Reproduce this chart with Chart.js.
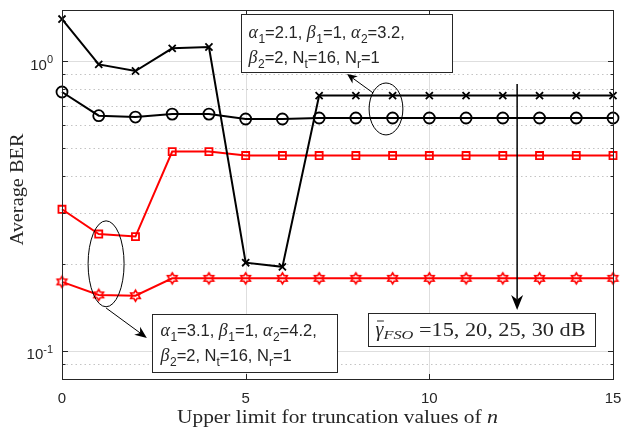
<!DOCTYPE html>
<html>
<head>
<meta charset="utf-8">
<script src="https://cdn.jsdelivr.net/npm/chart.js@4"></script>
<style>
  html, body { margin: 0; padding: 0; background: #fff; }
</style>
</head>
<body>
<canvas id="c" width="621" height="432"></canvas>
<script>
// Truncation limit n on the x axis
const nValues = [0, 1, 2, 3, 4, 5, 6, 7, 8, 9, 10, 11, 12, 13, 14, 15];

// Average BER per truncation limit
const berCross  = [1.396, 0.974, 0.924, 1.106, 1.118, 0.2015, 0.195, 0.76, 0.76, 0.76, 0.76, 0.76, 0.76, 0.76, 0.76, 0.76];
const berCircle = [0.782, 0.648, 0.641, 0.656, 0.656, 0.631, 0.631, 0.636, 0.636, 0.636, 0.636, 0.636, 0.636, 0.636, 0.636, 0.636];
const berSquare = [0.308, 0.253, 0.248, 0.487, 0.487, 0.472, 0.472, 0.472, 0.472, 0.472, 0.472, 0.472, 0.472, 0.472, 0.472, 0.472];
const berStar   = [0.173, 0.156, 0.155, 0.178, 0.178, 0.178, 0.178, 0.178, 0.178, 0.178, 0.178, 0.178, 0.178, 0.178, 0.178, 0.178];

// Axis ticks
const xTickLabels = [0, 5, 10, 15];
const yMajorTicks = [0.1, 1];
const yTickExponents = ['-1', '0'];
const yMinorTicks = [0.09, 0.2, 0.3, 0.4, 0.5, 0.6, 0.7, 0.8, 0.9];

const xTitle = 'Upper limit for truncation values of ';
const xTitleVar = 'n';
const yTitle = 'Average BER';

// Text of the parameter notes: [text, kind] where kind g = greek, s = subscript, n = normal
const noteTopLines = [
  [['α','g'],['1','s'],['=2.1, ','n'],['β','g'],['1','s'],['=1, ','n'],['α','g'],['2','s'],['=3.2,','n']],
  [['β','g'],['2','s'],['=2, N','n'],['t','s'],['=16, N','n'],['r','s'],['=1','n']]
];
const noteBottomLines = [
  [['α','g'],['1','s'],['=3.1, ','n'],['β','g'],['1','s'],['=1, ','n'],['α','g'],['2','s'],['=4.2,','n']],
  [['β','g'],['2','s'],['=2, N','n'],['t','s'],['=16, N','n'],['r','s'],['=1','n']]
];
const snrText = ' =15, 20, 25, 30 dB';

const SANS = '"Liberation Sans", Arial, sans-serif';
const SERIF = '"Liberation Serif", "Times New Roman", serif';
const TEXT = '#262626';

// Hexagram marker drawn onto a small canvas
function hexagram(color, r) {
  const s = Math.ceil(2 * r + 4);
  const c = document.createElement('canvas');
  c.width = s; c.height = s;
  const g = c.getContext('2d');
  const m = s / 2, ri = r / Math.sqrt(3);
  g.strokeStyle = color; g.lineWidth = 1.6; g.lineJoin = 'miter';
  g.beginPath();
  for (let i = 0; i < 12; i++) {
    const a = -Math.PI / 2 + i * Math.PI / 6;
    const rr = i % 2 === 0 ? r : ri;
    const px = m + rr * Math.cos(a), py = m + rr * Math.sin(a);
    if (i === 0) g.moveTo(px, py); else g.lineTo(px, py);
  }
  g.closePath(); g.stroke();
  return c;
}

function series(values) { return nValues.map((n, i) => ({ x: n, y: values[i] })); }

const datasets = [
  { data: series(berCross), borderColor: '#000', borderWidth: 2, pointStyle: 'crossRot',
    pointRadius: 5, pointBorderWidth: 1.8, pointBorderColor: '#000', pointBackgroundColor: 'rgba(0,0,0,0)' },
  { data: series(berCircle), borderColor: '#000', borderWidth: 2, pointStyle: 'circle',
    pointRadius: 5.5, pointBorderWidth: 1.8, pointBorderColor: '#000', pointBackgroundColor: 'rgba(0,0,0,0)' },
  { data: series(berSquare), borderColor: '#ff0000', borderWidth: 2, pointStyle: 'rect',
    pointRadius: 5, pointBorderWidth: 1.8, pointBorderColor: '#ff0000', pointBackgroundColor: 'rgba(0,0,0,0)' },
  { data: series(berStar), borderColor: '#ff0000', borderWidth: 2, pointStyle: hexagram('#ff0000', 5.5),
    pointRadius: 5, pointBorderColor: '#ff0000' }
].map(d => Object.assign(d, { tension: 0, fill: false, clip: false }));

// Annotation shapes placed in data coordinates
const noteBoxes = [
  { x0: 4.87, x1: 10.62, y0: 1.452, y1: 0.917, lines: noteTopLines, pad: 7, base: [23, 48.5] },
  { x0: 2.45, x1: 7.49, y0: 0.134, y1: 0.0847, lines: noteBottomLines, pad: 8, base: [21.5, 46.5] }
];
const snrBox = { x0: 8.33, x1: 14.51, y0: 0.1355, y1: 0.104 };
const ellipses = [
  { x0: 8.36, x1: 9.28, y0: 0.840, y1: 0.556 },
  { x0: 0.71, x1: 1.69, y0: 0.281, y1: 0.142 }
];
const arrows = [
  { from: [8.47, 0.776], to: [7.76, 0.902], len: 10, half: 4.5 },
  { from: [1.20, 0.1406], to: [2.31, 0.1109], len: 12, half: 5 },
  { from: [12.39, 0.833], to: [12.39, 0.1384], len: 15, half: 6 }
];

// Serif text stretched horizontally to a given width (Computer Modern runs wider than Times)
function fitText(ctx, font, text, x, y, width) {
  ctx.font = font;
  const w = ctx.measureText(text).width;
  ctx.save();
  ctx.translate(x, y);
  ctx.scale(width / w, 1);
  ctx.fillText(text, 0, 0);
  ctx.restore();
}

function drawRuns(ctx, runs, x, y) {
  const fonts = { n: '16.5px ' + SANS, g: 'italic 18px ' + SERIF, s: '12px ' + SANS };
  ctx.textAlign = 'left'; ctx.textBaseline = 'alphabetic'; ctx.fillStyle = TEXT;
  for (const [t, k] of runs) {
    ctx.font = fonts[k];
    ctx.fillText(t, x, y + (k === 's' ? 5 : 0));
    x += ctx.measureText(t).width + (k === 'g' ? 0.5 : 0);
  }
}

function drawArrow(ctx, x1, y1, x2, y2, len, half) {
  const ang = Math.atan2(y2 - y1, x2 - x1);
  const ca = Math.cos(ang), sa = Math.sin(ang);
  const bx = x2 - len * ca, by = y2 - len * sa;
  const ix = x2 - len * 0.7 * ca, iy = y2 - len * 0.7 * sa;
  ctx.beginPath(); ctx.moveTo(x1, y1); ctx.lineTo(ix, iy); ctx.stroke();
  ctx.beginPath();
  ctx.moveTo(x2, y2);
  ctx.lineTo(bx - half * sa, by + half * ca);
  ctx.lineTo(ix, iy);
  ctx.lineTo(bx + half * sa, by - half * ca);
  ctx.closePath(); ctx.fill();
}

const framePlugin = {
  id: 'frame',
  beforeDatasetsDraw(chart) {
    const { ctx, chartArea: a, scales: { x, y } } = chart;
    ctx.save();
    ctx.lineWidth = 1;
    ctx.strokeStyle = '#dedede';
    for (const v of [5, 10]) {
      const p = Math.round(x.getPixelForValue(v)) + 0.5;
      ctx.beginPath(); ctx.moveTo(p, a.top); ctx.lineTo(p, a.bottom); ctx.stroke();
    }
    for (const v of yMajorTicks) {
      const p = Math.round(y.getPixelForValue(v)) + 0.5;
      ctx.beginPath(); ctx.moveTo(a.left, p); ctx.lineTo(a.right, p); ctx.stroke();
    }
    ctx.setLineDash([1.5, 3]);
    ctx.strokeStyle = '#c4c4c4';
    for (const v of yMinorTicks) {
      const p = Math.round(y.getPixelForValue(v)) + 0.5;
      ctx.beginPath(); ctx.moveTo(a.left, p); ctx.lineTo(a.right, p); ctx.stroke();
    }
    ctx.restore();
  },
  afterDatasetsDraw(chart) {
    const { ctx, chartArea: a, scales: { x, y } } = chart;
    ctx.save();
    // axes box
    ctx.strokeStyle = TEXT; ctx.lineWidth = 1;
    const L = Math.round(a.left) + 0.5, R = Math.round(a.right) + 0.5;
    const T = Math.round(a.top) + 0.5, B = Math.round(a.bottom) + 0.5;
    ctx.strokeRect(L, T, R - L, B - T);
    // tick marks, pointing inward on all sides
    ctx.beginPath();
    for (const v of xTickLabels) {
      const p = Math.round(x.getPixelForValue(v)) + 0.5;
      ctx.moveTo(p, B); ctx.lineTo(p, B - 5.5);
      ctx.moveTo(p, T); ctx.lineTo(p, T + 5.5);
    }
    for (const v of yMajorTicks) {
      const p = Math.round(y.getPixelForValue(v)) + 0.5;
      ctx.moveTo(L, p); ctx.lineTo(L + 5.5, p);
      ctx.moveTo(R, p); ctx.lineTo(R - 5.5, p);
    }
    for (const v of yMinorTicks) {
      const p = Math.round(y.getPixelForValue(v)) + 0.5;
      ctx.moveTo(L, p); ctx.lineTo(L + 3, p);
      ctx.moveTo(R, p); ctx.lineTo(R - 3, p);
    }
    ctx.stroke();

    // tick labels
    ctx.fillStyle = TEXT;
    ctx.textBaseline = 'alphabetic';
    ctx.font = '15px ' + SANS; ctx.textAlign = 'center';
    for (const v of xTickLabels) ctx.fillText(String(v), x.getPixelForValue(v), a.bottom + 24);
    yMajorTicks.forEach((v, i) => {
      const p = y.getPixelForValue(v);
      const right = a.left - 9;
      ctx.font = '11px ' + SANS; ctx.textAlign = 'right';
      const supW = ctx.measureText(yTickExponents[i]).width;
      ctx.fillText(yTickExponents[i], right, p + 2);
      ctx.font = '15px ' + SANS;
      ctx.fillText('10', right - supW, p + 8.5);
    });

    // axis titles
    ctx.textAlign = 'left';
    const titleW = 310, varW = 11;
    let sx = (a.left + a.right) / 2 - (titleW + varW) / 2;
    fitText(ctx, '19px ' + SERIF, xTitle, sx, a.bottom + 44, titleW);
    fitText(ctx, 'italic 19px ' + SERIF, xTitleVar, sx + titleW, a.bottom + 44, varW);
    ctx.save();
    ctx.translate(23, (a.top + a.bottom) / 2 - 5);
    ctx.rotate(-Math.PI / 2);
    fitText(ctx, '19px ' + SERIF, yTitle, -56, 0, 112);
    ctx.restore();

    // ellipses
    ctx.strokeStyle = '#000'; ctx.lineWidth = 1;
    for (const e of ellipses) {
      const X0 = x.getPixelForValue(e.x0), X1 = x.getPixelForValue(e.x1);
      const Y0 = y.getPixelForValue(e.y0), Y1 = y.getPixelForValue(e.y1);
      ctx.beginPath();
      ctx.ellipse((X0 + X1) / 2, (Y0 + Y1) / 2, Math.abs(X1 - X0) / 2, Math.abs(Y1 - Y0) / 2, 0, 0, Math.PI * 2);
      ctx.stroke();
    }
    // arrows
    ctx.fillStyle = '#000';
    for (const ar of arrows) {
      const vertical = ar.from[0] === ar.to[0];
      ctx.lineWidth = vertical ? 1.5 : 1;
      drawArrow(ctx, x.getPixelForValue(ar.from[0]), y.getPixelForValue(ar.from[1]),
        x.getPixelForValue(ar.to[0]), y.getPixelForValue(ar.to[1]), ar.len, ar.half);
    }
    // parameter notes
    for (const b of noteBoxes) {
      const X0 = Math.round(x.getPixelForValue(b.x0)) + 0.5, X1 = Math.round(x.getPixelForValue(b.x1)) + 0.5;
      const Y0 = Math.round(y.getPixelForValue(b.y0)) + 0.5, Y1 = Math.round(y.getPixelForValue(b.y1)) + 0.5;
      ctx.fillStyle = '#fff'; ctx.fillRect(X0, Y0, X1 - X0, Y1 - Y0);
      ctx.strokeStyle = '#262626'; ctx.lineWidth = 1; ctx.strokeRect(X0, Y0, X1 - X0, Y1 - Y0);
      b.lines.forEach((ln, i) => drawRuns(ctx, ln, X0 + b.pad, Y0 + b.base[i]));
    }
    // SNR note
    {
      const X0 = Math.round(x.getPixelForValue(snrBox.x0)) + 0.5, X1 = Math.round(x.getPixelForValue(snrBox.x1)) + 0.5;
      const Y0 = Math.round(y.getPixelForValue(snrBox.y0)) + 0.5, Y1 = Math.round(y.getPixelForValue(snrBox.y1)) + 0.5;
      ctx.fillStyle = '#fff'; ctx.fillRect(X0, Y0, X1 - X0, Y1 - Y0);
      ctx.strokeStyle = '#262626'; ctx.strokeRect(X0, Y0, X1 - X0, Y1 - Y0);
      let tx = X0 + 7; const base = Y0 + 22;
      ctx.fillStyle = TEXT; ctx.textAlign = 'left';
      ctx.font = 'italic 20px ' + SERIF;
      const gw = ctx.measureText('γ').width;
      ctx.fillText('γ', tx, base);
      ctx.lineWidth = 1; ctx.strokeStyle = TEXT;
      ctx.beginPath(); ctx.moveTo(tx + 1.5, base - 14.5); ctx.lineTo(tx + gw + 0.5, base - 14.5); ctx.stroke();
      tx += gw;
      fitText(ctx, 'italic 13px ' + SERIF, 'FSO', tx, base + 3, 30);
      tx += 30;
      const rest = X1 - 10 - tx;
      fitText(ctx, '19px ' + SERIF, snrText, tx, base, rest);
    }
    ctx.restore();
  }
};

new Chart(document.getElementById('c'), {
  type: 'line',
  data: { datasets },
  options: {
    responsive: false,
    animation: false,
    events: [],
    layout: { padding: { top: 10, right: 8, left: 0, bottom: 0 } },
    plugins: { legend: { display: false }, tooltip: { enabled: false } },
    scales: {
      x: {
        type: 'linear', min: 0, max: 15,
        grid: { display: false }, border: { display: false }, ticks: { display: false },
        afterFit(s) { s.height = 53; }
      },
      y: {
        type: 'logarithmic', min: 0.08, max: 1.5,
        grid: { display: false }, border: { display: false }, ticks: { display: false },
        afterFit(s) { s.width = 62; }
      }
    }
  },
  plugins: [framePlugin]
});
</script>
</body>
</html>
